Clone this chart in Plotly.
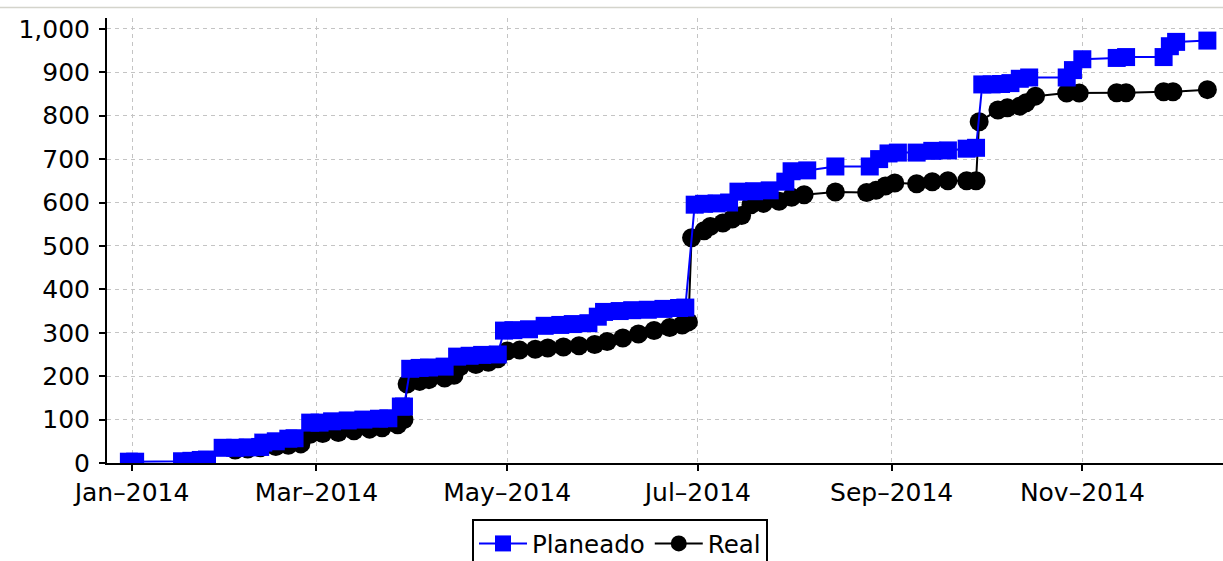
import plotly.graph_objects as go

plan_dates = [
    "2013-12-31", "2014-01-02", "2014-01-17", "2014-01-20", "2014-01-23", "2014-01-25",
    "2014-01-30", "2014-02-03", "2014-02-07", "2014-02-11", "2014-02-12", "2014-02-16",
    "2014-02-20", "2014-02-22", "2014-02-27", "2014-03-02", "2014-03-06", "2014-03-11",
    "2014-03-16", "2014-03-21", "2014-03-24", "2014-03-28", "2014-03-29", "2014-03-31",
    "2014-04-03", "2014-04-06", "2014-04-11", "2014-04-15", "2014-04-19", "2014-04-23",
    "2014-04-28", "2014-04-30", "2014-05-03", "2014-05-08", "2014-05-13", "2014-05-18",
    "2014-05-22", "2014-05-27", "2014-05-30", "2014-06-01", "2014-06-06", "2014-06-10",
    "2014-06-15", "2014-06-20", "2014-06-25", "2014-06-27", "2014-06-30", "2014-07-03",
    "2014-07-07", "2014-07-11", "2014-07-14", "2014-07-19", "2014-07-24", "2014-07-29",
    "2014-07-31", "2014-08-05", "2014-08-14", "2014-08-25", "2014-08-28", "2014-08-31",
    "2014-09-03", "2014-09-09", "2014-09-14", "2014-09-19", "2014-09-25", "2014-09-28",
    "2014-09-30", "2014-10-03", "2014-10-06", "2014-10-09", "2014-10-12", "2014-10-15",
    "2014-10-27", "2014-10-29", "2014-11-01", "2014-11-12", "2014-11-15", "2014-11-27",
    "2014-11-29", "2014-12-01", "2014-12-11",
]
plan_values = [
    3, 3, 4, 5, 7, 8,
    35, 35, 36, 37, 47, 50,
    56, 57, 93, 93, 96, 98,
    100, 102, 103, 130, 130, 217,
    219, 220, 222, 245, 247, 249,
    250, 305, 306, 308, 316, 318,
    320, 322, 337, 348, 350, 352,
    353, 355, 357, 358, 595, 597,
    598, 600, 625, 626, 628, 648,
    672, 674, 683, 683, 700, 713,
    715, 715, 719, 720, 724, 726,
    872, 872, 873, 875, 885, 888,
    888, 905, 930, 933, 935, 935,
    960, 970, 973,
]

real_dates = [
    "2014-02-03", "2014-02-07", "2014-02-11", "2014-02-16", "2014-02-20", "2014-02-24",
    "2014-02-27", "2014-03-03", "2014-03-08", "2014-03-13", "2014-03-18", "2014-03-22",
    "2014-03-27", "2014-03-29", "2014-03-30", "2014-04-03", "2014-04-06", "2014-04-11",
    "2014-04-14", "2014-04-16", "2014-04-21", "2014-04-25", "2014-04-28", "2014-05-01",
    "2014-05-05", "2014-05-10", "2014-05-14", "2014-05-19", "2014-05-24", "2014-05-29",
    "2014-06-02", "2014-06-07", "2014-06-12", "2014-06-17", "2014-06-22", "2014-06-26",
    "2014-06-28", "2014-06-29", "2014-07-03", "2014-07-05", "2014-07-09", "2014-07-12",
    "2014-07-15", "2014-07-18", "2014-07-22", "2014-07-27", "2014-07-31", "2014-08-04",
    "2014-08-14", "2014-08-24", "2014-08-27", "2014-08-30", "2014-09-02", "2014-09-09",
    "2014-09-14", "2014-09-19", "2014-09-25", "2014-09-28", "2014-09-29", "2014-10-05",
    "2014-10-08", "2014-10-12", "2014-10-14", "2014-10-17", "2014-10-27", "2014-10-31",
    "2014-11-12", "2014-11-15", "2014-11-27", "2014-11-30", "2014-12-11",
]
real_values = [
    30, 32, 35, 38, 41, 44,
    66, 68, 70, 74, 78, 81,
    88, 100, 182, 188, 192, 196,
    202, 222, 227, 232, 240, 258,
    260, 262, 265, 267, 270, 273,
    280, 288, 297, 305, 312, 318,
    325, 519, 535, 545, 553, 562,
    570, 595, 598, 603, 612, 618,
    624, 623, 628, 638, 645, 643,
    648, 650, 650, 650, 786, 813,
    818, 822, 830, 845, 852, 852,
    853, 853, 855, 855, 860,
]

y_ticks = [0, 100, 200, 300, 400, 500, 600, 700, 800, 900, 1000]
x_ticks = ["2014-01-01", "2014-03-01", "2014-05-01", "2014-07-01", "2014-09-01", "2014-11-01"]
x_tick_labels = ["Jan–2014", "Mar–2014", "May–2014", "Jul–2014", "Sep–2014", "Nov–2014"]

FONT = "DejaVu Sans"

fig = go.Figure()
fig.add_trace(go.Scatter(
    x=real_dates, y=real_values, name="Real", mode="lines+markers",
    line=dict(color="#000000", width=2),
    marker=dict(symbol="circle", size=19, color="#000000"),
    legendrank=2,
))
fig.add_trace(go.Scatter(
    x=plan_dates, y=plan_values, name="Planeado", mode="lines+markers",
    line=dict(color="#0000ff", width=2),
    marker=dict(symbol="square", size=18, color="#0000ff"),
    legendrank=1,
))

W, H = 1223, 561
ml, mr, mt, mb = 107, 0, 18, 98
ph = H - mt - mb

fig.update_layout(
    width=W, height=H,
    margin=dict(l=ml, r=mr, t=mt, b=mb, autoexpand=False),
    paper_bgcolor="#ffffff", plot_bgcolor="#ffffff",
    font=dict(family=FONT, size=25, color="#000000"),
    showlegend=True,
    legend=dict(
        orientation="h", x=(620 - ml) / (W - ml - mr), xanchor="center",
        y=-(519 - (H - mb)) / ph, yanchor="top",
        bordercolor="#000000", borderwidth=2, bgcolor="#ffffff",
        font=dict(family=FONT, size=24.5, color="#000000"),
        itemwidth=48, tracegroupgap=0,
    ),
    xaxis=dict(
        type="date", range=["2013-12-24", "2014-12-16"],
        tickvals=x_ticks, ticktext=x_tick_labels,
        showgrid=True, gridcolor="#c4c4c4", griddash="4px,4px", gridwidth=1,
        showline=True, linecolor="#000000", linewidth=2,
        ticks="outside", ticklen=6, tickwidth=2, tickcolor="#000000",
        tickfont=dict(family=FONT, size=25, color="#000000"),
        zeroline=False, fixedrange=True,
    ),
    yaxis=dict(
        range=[0, 1025], tickvals=y_ticks, tickformat=",",
        showgrid=True, gridcolor="#c4c4c4", griddash="4px,4px", gridwidth=1,
        showline=True, linecolor="#000000", linewidth=2,
        ticks="outside", ticklen=6, tickwidth=2, tickcolor="#000000",
        tickfont=dict(family=FONT, size=25, color="#000000"),
        ticklabelstandoff=4,
        zeroline=False, fixedrange=True,
    ),
    shapes=[dict(
        type="line", xref="paper", yref="paper",
        x0=-ml / (W - ml - mr), x1=1.0,
        y0=1 + (mt - 7.5) / ph, y1=1 + (mt - 7.5) / ph,
        line=dict(color="#d4d4cc", width=1.5),
    )],
)

fig.write_html(
    "out.html",
    config={"displayModeBar": False, "staticPlot": True},
    post_script="document.body.style.margin='0';document.body.style.overflow='hidden';",
)
